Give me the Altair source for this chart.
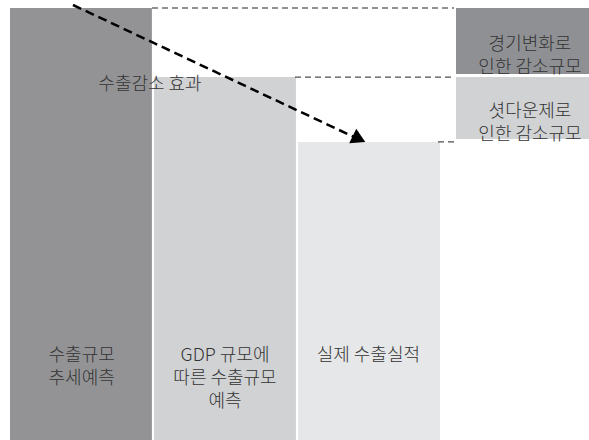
import altair as alt
import pandas as pd

# Data
categories = ["수출규모\n추세예측", "GDP 규모에\n따른 수출규모\n예측", "실제 수출실적"]
values = [100, 84, 69]          # relative export size (index)
bar_colors = ["#939396", "#d1d2d4", "#e6e7e8"]
legend_labels = ["경기변화로\n인한 감소규모", "셧다운제로\n인한 감소규모"]
effect_label = "수출감소 효과"

W, H = 589, 440
FONT = "Noto Sans CJK KR"
TXT = "#333333"
FS = 18

bars = pd.DataFrame({"cat": categories, "v": values, "c": bar_colors})
legend = pd.DataFrame({
    "lab": legend_labels,
    "top": values[:2],
    "bot": values[1:],
    "c": ["#8f9093", "#d1d2d4"],
})

yscale = alt.Scale(domain=[0, 100 * 440 / 432], range=[H, 0])
xscale = alt.Scale(domain=categories, range=[10, 440], paddingInner=0.015, paddingOuter=0)

base = alt.Chart(bars)

bar_layer = base.mark_rect().encode(
    x=alt.X("cat:N", scale=xscale, axis=None, sort=None),
    y=alt.Y("v:Q", scale=yscale, axis=None),
    y2=alt.datum(0),
    color=alt.Color("c:N", scale=None, legend=None),
)

bar_text = base.mark_text(
    font=FONT, fontSize=FS, fontWeight=300, color=TXT, lineBreak="\n", lineHeight=23,
    align="center", baseline="middle",
).encode(
    x=alt.X("cat:N", scale=xscale, axis=None, sort=None),
    y=alt.value(356),
    text="cat:N",
)

# legend boxes to the right
leg = alt.Chart(legend)
leg_box = leg.mark_rect(y2Offset=-3).encode(
    x=alt.value(456), x2=alt.value(W),
    y=alt.Y("top:Q", scale=yscale, axis=None),
    y2="bot:Q",
    color=alt.Color("c:N", scale=None, legend=None),
)
leg_text = leg.mark_text(
    font=FONT, fontSize=FS, fontWeight=300, color=TXT, lineBreak="\n", lineHeight=23,
    align="center", baseline="middle", dy=2,
).encode(
    x=alt.value(530),
    y=alt.Y("mid:Q", scale=yscale, axis=None),
    text="lab:N",
).transform_calculate(mid="(datum.top + datum.bot) / 2")

# dashed guide lines at bar tops
guides = pd.DataFrame({"v": values, "x0": [152, 295, 438]})
guide_layer = alt.Chart(guides).mark_rule(
    strokeDash=[6, 4], strokeWidth=1, color="#222222"
).encode(
    x=alt.X("x0:Q", scale=alt.Scale(domain=[0, W], range=[0, W]), axis=None),
    x2=alt.value(454),
    y=alt.Y("v:Q", scale=yscale, axis=None),
)

# arrow
arrow_line = alt.Chart(pd.DataFrame({"a": [0]})).mark_rule(
    strokeDash=[9, 5], strokeWidth=2.5, color="black"
).encode(
    x=alt.value(73), y=alt.value(5), x2=alt.value(354), y2=alt.value(137),
)
arrow_head = alt.Chart(pd.DataFrame({"a": [0]})).mark_point(
    shape="triangle-right", filled=True, color="black", opacity=1, size=260, angle=26,
).encode(x=alt.value(359), y=alt.value(139))

effect = alt.Chart(pd.DataFrame({"t": [effect_label]})).mark_text(
    font=FONT, fontSize=FS, fontWeight=300, color=TXT, align="center", baseline="middle",
).encode(x=alt.value(150), y=alt.value(85), text="t:N")

chart = alt.layer(
    bar_layer, leg_box, guide_layer, bar_text, leg_text, arrow_line, arrow_head, effect
).resolve_scale(x="independent").properties(
    width=W, height=H, padding=0, autosize=alt.AutoSizeParams(type="none"),
    background="white",
).configure_view(stroke=None)

chart.save("out.html", embed_options={"renderer": "svg", "actions": False})
